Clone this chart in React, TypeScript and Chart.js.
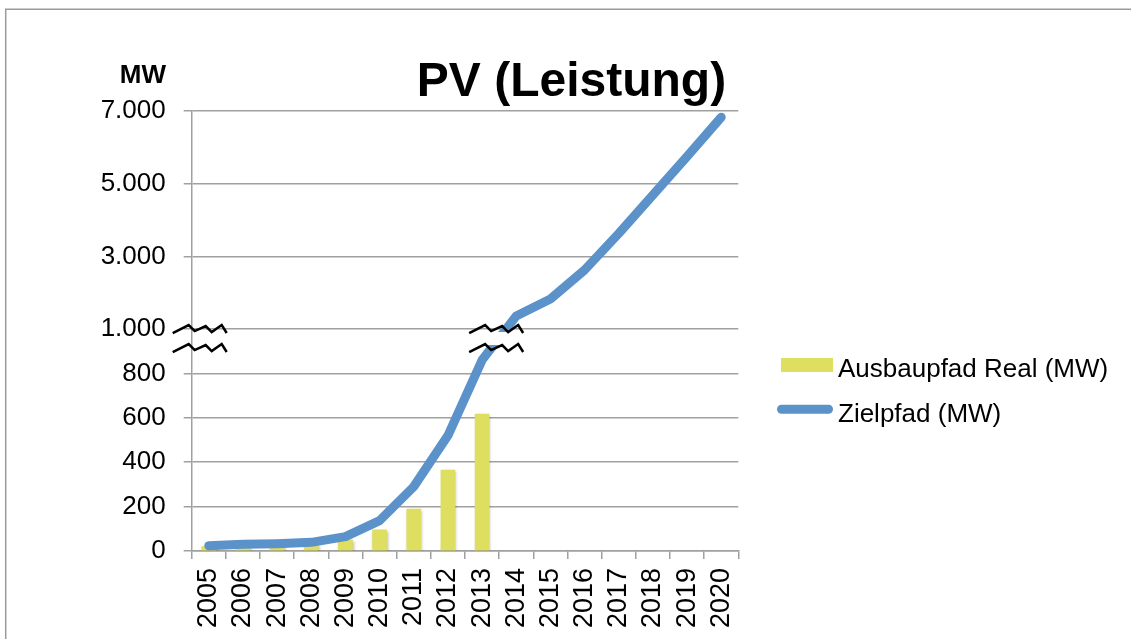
import { useEffect, useRef } from 'react';
import { Chart, registerables } from 'chart.js';

Chart.register(...registerables);

// ---------- data ----------
const categories = [
  '2005', '2006', '2007', '2008', '2009', '2010', '2011', '2012',
  '2013', '2014', '2015', '2016', '2017', '2018', '2019', '2020',
];
// Ausbaupfad Real (MW)
const ausbaupfadReal: (number | null)[] = [
  20, 22, 24, 28, 50, 95, 189, 365, 617, null, null, null, null, null, null, null,
];
// Zielpfad (MW)
const zielpfad = [
  24, 30, 33, 39, 65, 137, 290, 520, 860, 1358, 1826, 2624, 3629, 4688, 5748, 6830,
];
const yTickValues = [0, 200, 400, 600, 800, 1000, 3000, 5000, 7000];
const yTickLabels = ['0', '200', '400', '600', '800', '1.000', '3.000', '5.000', '7.000'];

const titleText = 'PV (Leistung)';
const unitText = 'MW';
const seriesNames = ['Ausbaupfad Real (MW)', 'Zielpfad (MW)'];

// broken axis: above 1000 the scale is compressed
const BREAK_AT = 1000;
const UPPER_RATIO = 0.1637;
const toDisplay = (v: number | null) =>
  v == null ? null : v <= BREAK_AT ? v : BREAK_AT + (v - BREAK_AT) * UPPER_RATIO;

const BAR_COLOR = '#DEDE60';
const LINE_COLOR = '#5B92CA';
const GRID_COLOR = '#A0A0A0';
const FONT = "'Liberation Sans', Arial, sans-serif";

function zigzag(ctx: CanvasRenderingContext2D, x0: number, y: number) {
  const xs = [0, 16, 22, 33, 39, 49, 54];
  const ys = [4, -4, 2, -3, 3, -4, 4];
  ctx.beginPath();
  xs.forEach((dx, i) => {
    if (i === 0) ctx.moveTo(x0 + dx, y + ys[i]);
    else ctx.lineTo(x0 + dx, y + ys[i]);
  });
  ctx.stroke();
}

const decorPlugin = {
  id: 'decor',
  beforeDraw(chart: any) {
    const ctx = chart.ctx as CanvasRenderingContext2D;
    ctx.save();
    ctx.fillStyle = '#fff';
    ctx.fillRect(0, 0, chart.width, chart.height);
    ctx.strokeStyle = '#9a9a9a';
    ctx.lineWidth = 1.5;
    ctx.beginPath();
    ctx.moveTo(5.7, chart.height);
    ctx.lineTo(5.7, 9.3);
    ctx.lineTo(chart.width, 9.3);
    ctx.stroke();
    ctx.restore();
  },
  beforeDatasetDraw(chart: any, args: any) {
    if (args.index === 0) {
      const ctx = chart.ctx as CanvasRenderingContext2D;
      ctx.save();
      ctx.shadowColor = 'rgba(0,0,0,0.28)';
      ctx.shadowBlur = 3;
      ctx.shadowOffsetX = 1;
      ctx.shadowOffsetY = 1;
    }
  },
  afterDatasetDraw(chart: any, args: any) {
    if (args.index === 0) chart.ctx.restore();
  },
  afterDatasetsDraw(chart: any) {
    const ctx = chart.ctx as CanvasRenderingContext2D;
    const y = chart.scales.y;
    const x = chart.scales.x;
    const area = chart.chartArea;
    const yTop = y.getPixelForValue(BREAK_AT);
    const yBot = yTop + 19;
    ctx.save();
    ctx.strokeStyle = '#000';
    ctx.lineWidth = 2.5;
    ctx.lineJoin = 'miter';
    // axis break
    const ax = area.left - 19;
    zigzag(ctx, ax, yTop);
    zigzag(ctx, ax, yBot);
    // line break with white gap
    const lx = x.getPixelForValue(8.5) - 30;
    ctx.fillStyle = '#fff';
    ctx.fillRect(lx + 1, yTop + 3, 52, yBot - yTop - 6);
    zigzag(ctx, lx, yTop);
    zigzag(ctx, lx, yBot);
    ctx.restore();
  },
  afterDraw(chart: any) {
    const ctx = chart.ctx as CanvasRenderingContext2D;
    ctx.save();
    ctx.fillStyle = '#000';
    ctx.textBaseline = 'alphabetic';
    // title
    ctx.font = `bold 48px ${FONT}`;
    ctx.textAlign = 'center';
    ctx.fillText(titleText, 571.5, 96);
    // unit
    ctx.font = `bold 26px ${FONT}`;
    ctx.textAlign = 'right';
    ctx.fillText(unitText, 166, 83);
    // legend
    ctx.font = `26px ${FONT}`;
    ctx.textAlign = 'left';
    ctx.fillStyle = BAR_COLOR;
    ctx.fillRect(781, 358, 52, 14);
    ctx.fillStyle = '#000';
    ctx.fillText(seriesNames[0], 838, 377);
    ctx.strokeStyle = LINE_COLOR;
    ctx.lineWidth = 9;
    ctx.lineCap = 'round';
    ctx.beginPath();
    ctx.moveTo(781.5, 409.3);
    ctx.lineTo(828.5, 409.3);
    ctx.stroke();
    ctx.fillText(seriesNames[1], 838, 422);
    ctx.restore();
  },
};

export default function App() {
  const ref = useRef<HTMLCanvasElement | null>(null);

  useEffect(() => {
    if (!ref.current) return;
    const chart = new Chart(ref.current, {
      type: 'bar',
      data: {
        labels: categories,
        datasets: [
          {
            type: 'bar',
            label: seriesNames[0],
            data: ausbaupfadReal.map(toDisplay),
            backgroundColor: BAR_COLOR,
            barThickness: 14,
            order: 1,
          } as any,
          {
            type: 'line',
            label: seriesNames[1],
            data: zielpfad.map(toDisplay),
            borderColor: LINE_COLOR,
            backgroundColor: LINE_COLOR,
            borderWidth: 9,
            borderCapStyle: 'round',
            borderJoinStyle: 'round',
            pointRadius: 0,
            tension: 0,
            order: 0,
          } as any,
        ],
      },
      options: {
        animation: false,
        responsive: false,
        devicePixelRatio: 1,
        events: [],
        layout: { padding: { left: 0, right: 1131 - 738.3, top: 111, bottom: 0 } },
        plugins: {
          legend: { display: false },
          title: { display: false },
          tooltip: { enabled: false },
        },
        scales: {
          x: {
            grid: {
              drawOnChartArea: false,
              drawTicks: true,
              tickLength: 8,
              color: GRID_COLOR,
              lineWidth: 1.5,
            },
            border: { display: true, color: GRID_COLOR, width: 1.5 },
            ticks: {
              autoSkip: false,
              maxRotation: 90,
              minRotation: 90,
              padding: 9,
              color: '#000',
              font: { family: FONT, size: 27 },
            },
            afterFit(scale: any) {
              scale.height = 88;
            },
          },
          y: {
            min: 0,
            max: toDisplay(7000) as number,
            grid: {
              color: GRID_COLOR,
              lineWidth: 1.5,
              tickLength: 8,
            },
            border: { display: true, color: GRID_COLOR, width: 1.5 },
            ticks: {
              padding: 18,
              color: '#000',
              font: { family: FONT, size: 26 },
              callback: (_v: any, i: number) => yTickLabels[i],
            },
            afterBuildTicks(scale: any) {
              scale.ticks = yTickValues.map((v) => ({ value: toDisplay(v) }));
            },
            afterFit(scale: any) {
              scale.width = 191.7;
            },
          },
        },
      },
      plugins: [decorPlugin],
    });
    return () => chart.destroy();
  }, []);

  return (
    <div style={{ position: 'fixed', left: 0, top: 0, width: 1131, height: 639 }}>
      <canvas ref={ref} width={1131} height={639} style={{ width: 1131, height: 639 }} />
    </div>
  );
}
